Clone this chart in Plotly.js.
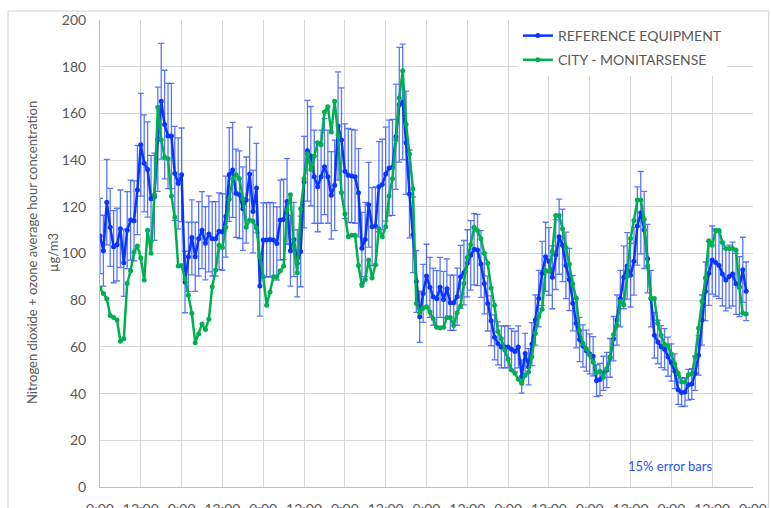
<!DOCTYPE html>
<html>
<head>
<meta charset="utf-8">
<script src="https://cdn.plot.ly/plotly-3.0.1.min.js"></script>
<style>html,body{margin:0;padding:0;background:#fff;}#chart{width:771px;height:508px;}</style>
</head>
<body>
<div id="chart"></div>
<script>
// Hourly readings over 8 days (index = hours since first 0:00)
const referenceEquipment = [
107.5,101.2,122,111.2,102.9,103.8,110.6,96,110,114.3,114,127.2,146.6,138.6,136,123.5,124.3,148.9,165.2,155.2,150.3,150.3,134.3,130,
133.7,87.8,98.6,106.9,98.6,106.3,110,104.4,108.4,106.3,106.3,109.5,109.2,115.8,133.8,135.8,125.8,125.2,119.2,122.9,134,118,128,86.1,
105.8,105.8,106,105.8,104.3,114.3,114.6,122.3,101.2,106,95.8,100.9,130.6,144,141.7,132.9,128.6,132.9,137.2,132.9,124.9,129.2,154.6,148.6,
135.2,133.5,133.2,132.9,126,102.3,106,120.9,111.5,111.8,128.6,129.5,134,136.6,136.9,150,163.7,164.9,147.4,125.5,108,88,
72.9,82.9,90.4,85.5,81.5,80.6,85.5,80.3,84.9,78.9,78.9,81.5,90,91.8,95.8,99.2,101.8,101.5,95.5,87.2,78.6,71.2,64.1,61.5,
60,60,60,59,58,60,47.3,57.2,51.5,61.2,71.5,80.7,91.5,98.6,96.6,89.8,99.5,107.2,103.5,94.9,88.9,78.7,70.1,63.2,
60.4,58.4,57,56,45.5,46,48.7,50.1,55.3,63.5,71.5,80.7,89.8,94.7,90.7,96.7,111.8,117.5,110.1,97.8,80.7,65,62.1,60.1,
59,55.8,53.3,49.6,41.6,40.5,40.7,43.8,44.1,48.7,56.4,71.5,83.8,91.5,97.2,96.1,94.9,91.2,88.7,90.1,91.2,87,85.8,93,83.8
];
const cityMonitarsense = [
85.2,82.9,80.6,73.5,72.6,71.5,62.4,63.5,87.2,92.6,100.6,103.2,98.1,88.6,110,100.1,125.2,162.6,148.6,141.2,140.6,124.6,115.5,94.6,
94.9,89.2,82.1,74.4,61.8,65.5,69.8,67.5,71.8,85.8,92.9,103.5,102.6,111.2,123.2,132,133.7,132,123.5,111.2,114.3,113.8,110.9,98.6,
90,77.8,83.5,90,90,92.6,94.6,118.6,125.2,102.9,91.8,119.2,132,142.6,136,141.7,147.4,146.6,160.6,162.9,152,165.2,150.6,126,
116.9,107.2,107.8,107.8,94.9,86.3,88.9,97.2,89.5,95.2,110.6,107.2,111.5,124.6,132,148.6,166.6,178.3,155.4,142.6,127.7,78.6,
74.6,76.6,77.2,74.9,72.1,68.4,68.1,68.4,72.6,72.6,69.2,74.6,77.5,87.2,98.3,103.8,111.2,109.8,106.3,100,95.8,85.2,77.8,66.6,
63.5,58.7,54.7,50.1,48.7,46.1,44.4,47.8,49.3,55.8,65.8,73,76.1,92.7,92.4,100.9,116.3,116.3,110.6,102.6,95.5,87,80.9,67,
61.5,59.2,56.4,53.5,49,49.6,47,50.7,55.8,65.3,69.3,79.3,78.1,90.4,106.4,114.1,122.9,122.9,114.7,94.7,80.7,80.7,70.1,65,
61,60.4,57,52.7,48.7,45,45,48.1,48.4,55.6,68.1,79.5,89.5,105.5,103.5,109.8,109.8,104.7,102.1,102.1,102.1,101.5,85.5,74.4,74.1
];
const seriesNames = ["REFERENCE EQUIPMENT", "CITY - MONITARSENSE"];
const tickHours = [0,12,24,36,48,60,72,84,96,108,120,132,144,156,168,180,192];
const tickLabels = ["0:00","12:00","0:00","12:00","0:00","12:00","0:00","12:00","0:00","12:00","0:00","12:00","0:00","12:00","0:00","12:00","0:00"];
const yTitleLines = ["Nitrogen dioxide + ozone average hour concentration", "µg/m3"];
const errorPercent = 15;

const hoursRef = referenceEquipment.map((_, i) => i);
const hoursCity = cityMonitarsense.map((_, i) => i);

const FONT = "Lato, 'Open Sans', sans-serif";
const GRAY = "#595959";

const traces = [
  {
    x: hoursRef, y: referenceEquipment, name: seriesNames[0],
    type: "scatter", mode: "lines+markers", legendgroup: "a",
    line: {color: "#0a35ff", width: 2.5},
    marker: {color: "#0a35ff", size: 5},
    error_y: {type: "percent", value: errorPercent, visible: true,
              color: "rgba(20,60,255,0.7)", thickness: 1.3, width: 3}
  },
  {
    x: hoursCity, y: cityMonitarsense, name: seriesNames[1],
    type: "scatter", mode: "lines+markers", legendgroup: "b",
    line: {color: "#00b050", width: 2.5},
    marker: {color: "#00b050", size: 5}
  }
];

// plot area: x 100..753.3 px, y 20..487 px
const pxX = px => (px - 100) / 653.3;
const pxY = py => (487 - py) / 467;

const layout = {
  width: 771, height: 508,
  margin: {l: 100, r: 18, t: 20, b: 21},
  paper_bgcolor: "#ffffff", plot_bgcolor: "#ffffff",
  font: {family: FONT, color: GRAY, size: 14},
  showlegend: true,
  legend: {x: 0.64, y: 1.0, xanchor: "left", yanchor: "top",
           bgcolor: "#ffffff", borderwidth: 0, tracegroupgap: 3,
           font: {family: FONT, size: 14, color: GRAY}},
  xaxis: {
    range: [0, 192], tickvals: tickHours, ticktext: tickLabels,
    showgrid: true, gridcolor: "#d9d9d9", gridwidth: 1,
    zeroline: false, showline: true, linecolor: "#bfbfbf", linewidth: 1,
    ticks: "", ticklabelstandoff: 9,
    tickfont: {family: FONT, size: 14, color: GRAY}, fixedrange: true
  },
  yaxis: {
    range: [0, 200], dtick: 20, tick0: 0,
    showgrid: true, gridcolor: "#d9d9d9", gridwidth: 1,
    zeroline: false, showline: true, linecolor: "#bfbfbf", linewidth: 1,
    ticks: "", ticklabelstandoff: 10,
    tickfont: {family: FONT, size: 14, color: GRAY},
    fixedrange: true
  },
  annotations: [
    {text: yTitleLines[0], xref: "paper", yref: "paper", x: pxX(32), y: pxY(253),
     xanchor: "center", yanchor: "middle", textangle: -90, showarrow: false,
     font: {family: FONT, size: 13, color: GRAY}},
    {text: yTitleLines[1], xref: "paper", yref: "paper", x: pxX(53), y: pxY(253),
     xanchor: "center", yanchor: "middle", textangle: -90, showarrow: false,
     font: {family: FONT, size: 13, color: GRAY}},
    {text: "15% error bars", xref: "paper", yref: "paper", x: pxX(670), y: pxY(466),
     xanchor: "center", yanchor: "middle", showarrow: false,
     font: {family: FONT, size: 13, color: "#2b50ff"}}
  ],
  shapes: [
    {type: "rect", xref: "paper", yref: "paper", x0: pxX(8), x1: pxX(769), y0: pxY(520), y1: pxY(11),
     line: {color: "#d0d0d0", width: 1}, fillcolor: "rgba(0,0,0,0)", layer: "above"}
  ]
};

Plotly.newPlot("chart", traces, layout, {displayModeBar: false, staticPlot: true});
</script>
</body>
</html>
